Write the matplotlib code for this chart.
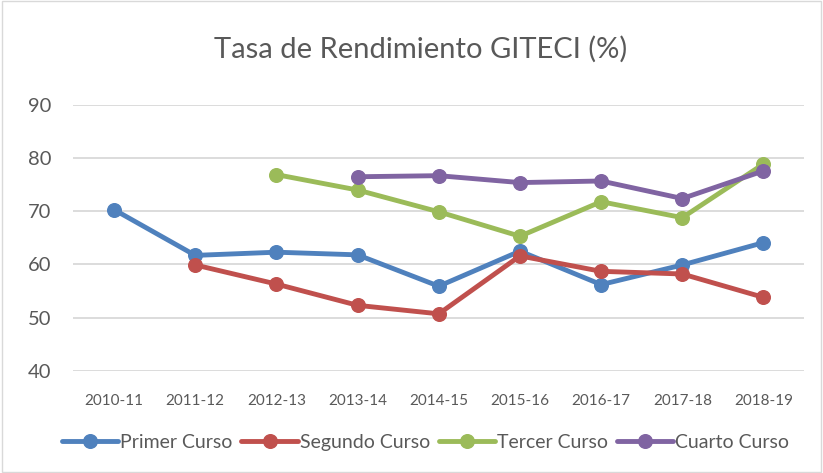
import matplotlib
matplotlib.use("Agg")
import matplotlib.pyplot as plt
from matplotlib.patches import Rectangle
import numpy as np

# datos
cursos = ["2010-11", "2011-12", "2012-13", "2013-14", "2014-15",
          "2015-16", "2016-17", "2017-18", "2018-19"]
primer = [70.3, 61.7, 62.3, 61.8, 55.9, 62.5, 56.2, 59.9, 64.1]
segundo = [np.nan, 59.9, 56.3, 52.3, 50.7, 61.6, 58.7, 58.2, 53.8]
tercer = [np.nan, np.nan, 76.9, 74.0, 69.9, 65.3, 71.8, 68.8, 78.9]
cuarto = [np.nan, np.nan, np.nan, 76.5, 76.7, 75.4, 75.7, 72.4, 77.6]

series = [("Primer Curso", primer, "#4F81BD"),
          ("Segundo Curso", segundo, "#C0504D"),
          ("Tercer Curso", tercer, "#9BBB59"),
          ("Cuarto Curso", cuarto, "#8064A2")]

plt.rcParams['font.family'] = ['Lato', 'DejaVu Sans']

fig = plt.figure(figsize=(8.23, 4.73), dpi=100)
ax = fig.add_axes([0.0893, 0.2163, 0.8877, 0.5617])

x = np.arange(len(cursos))
for nombre, vals, col in series:
    ax.plot(x, vals, color=col, lw=3.5, marker="o", ms=9.8,
            label=nombre, clip_on=False, solid_capstyle="round")

ax.set_xlim(-0.5, len(cursos) - 0.5)
ax.set_ylim(40, 90)
ax.set_yticks(range(40, 91, 10))
ax.set_xticks(x)
ax.set_xticklabels(cursos)
ax.yaxis.grid(True, color="#D9D9D9", lw=1.3)
ax.set_axisbelow(True)
for s in ax.spines.values():
    s.set_visible(False)
ax.tick_params(axis="both", length=0, colors="#595959")
ax.tick_params(axis="x", labelsize=11, pad=17)
ax.tick_params(axis="y", labelsize=14.5, pad=16)

fig.text(0.511, 0.895, "Tasa de Rendimiento GITECI (%)", ha="center", va="center",
         fontsize=21, color="#595959")

ax.legend(loc="center", bbox_to_anchor=(0.482, -0.27), ncol=4, frameon=False,
          fontsize=14, handlelength=2.9, handletextpad=0.1, columnspacing=0.45,
          labelcolor="#595959")

fig.patches.append(Rectangle((0.002, 0.002), 0.996, 0.996, transform=fig.transFigure,
                             fill=False, edgecolor="#D9D9D9", lw=1))

fig.savefig("out.png", dpi=100)
